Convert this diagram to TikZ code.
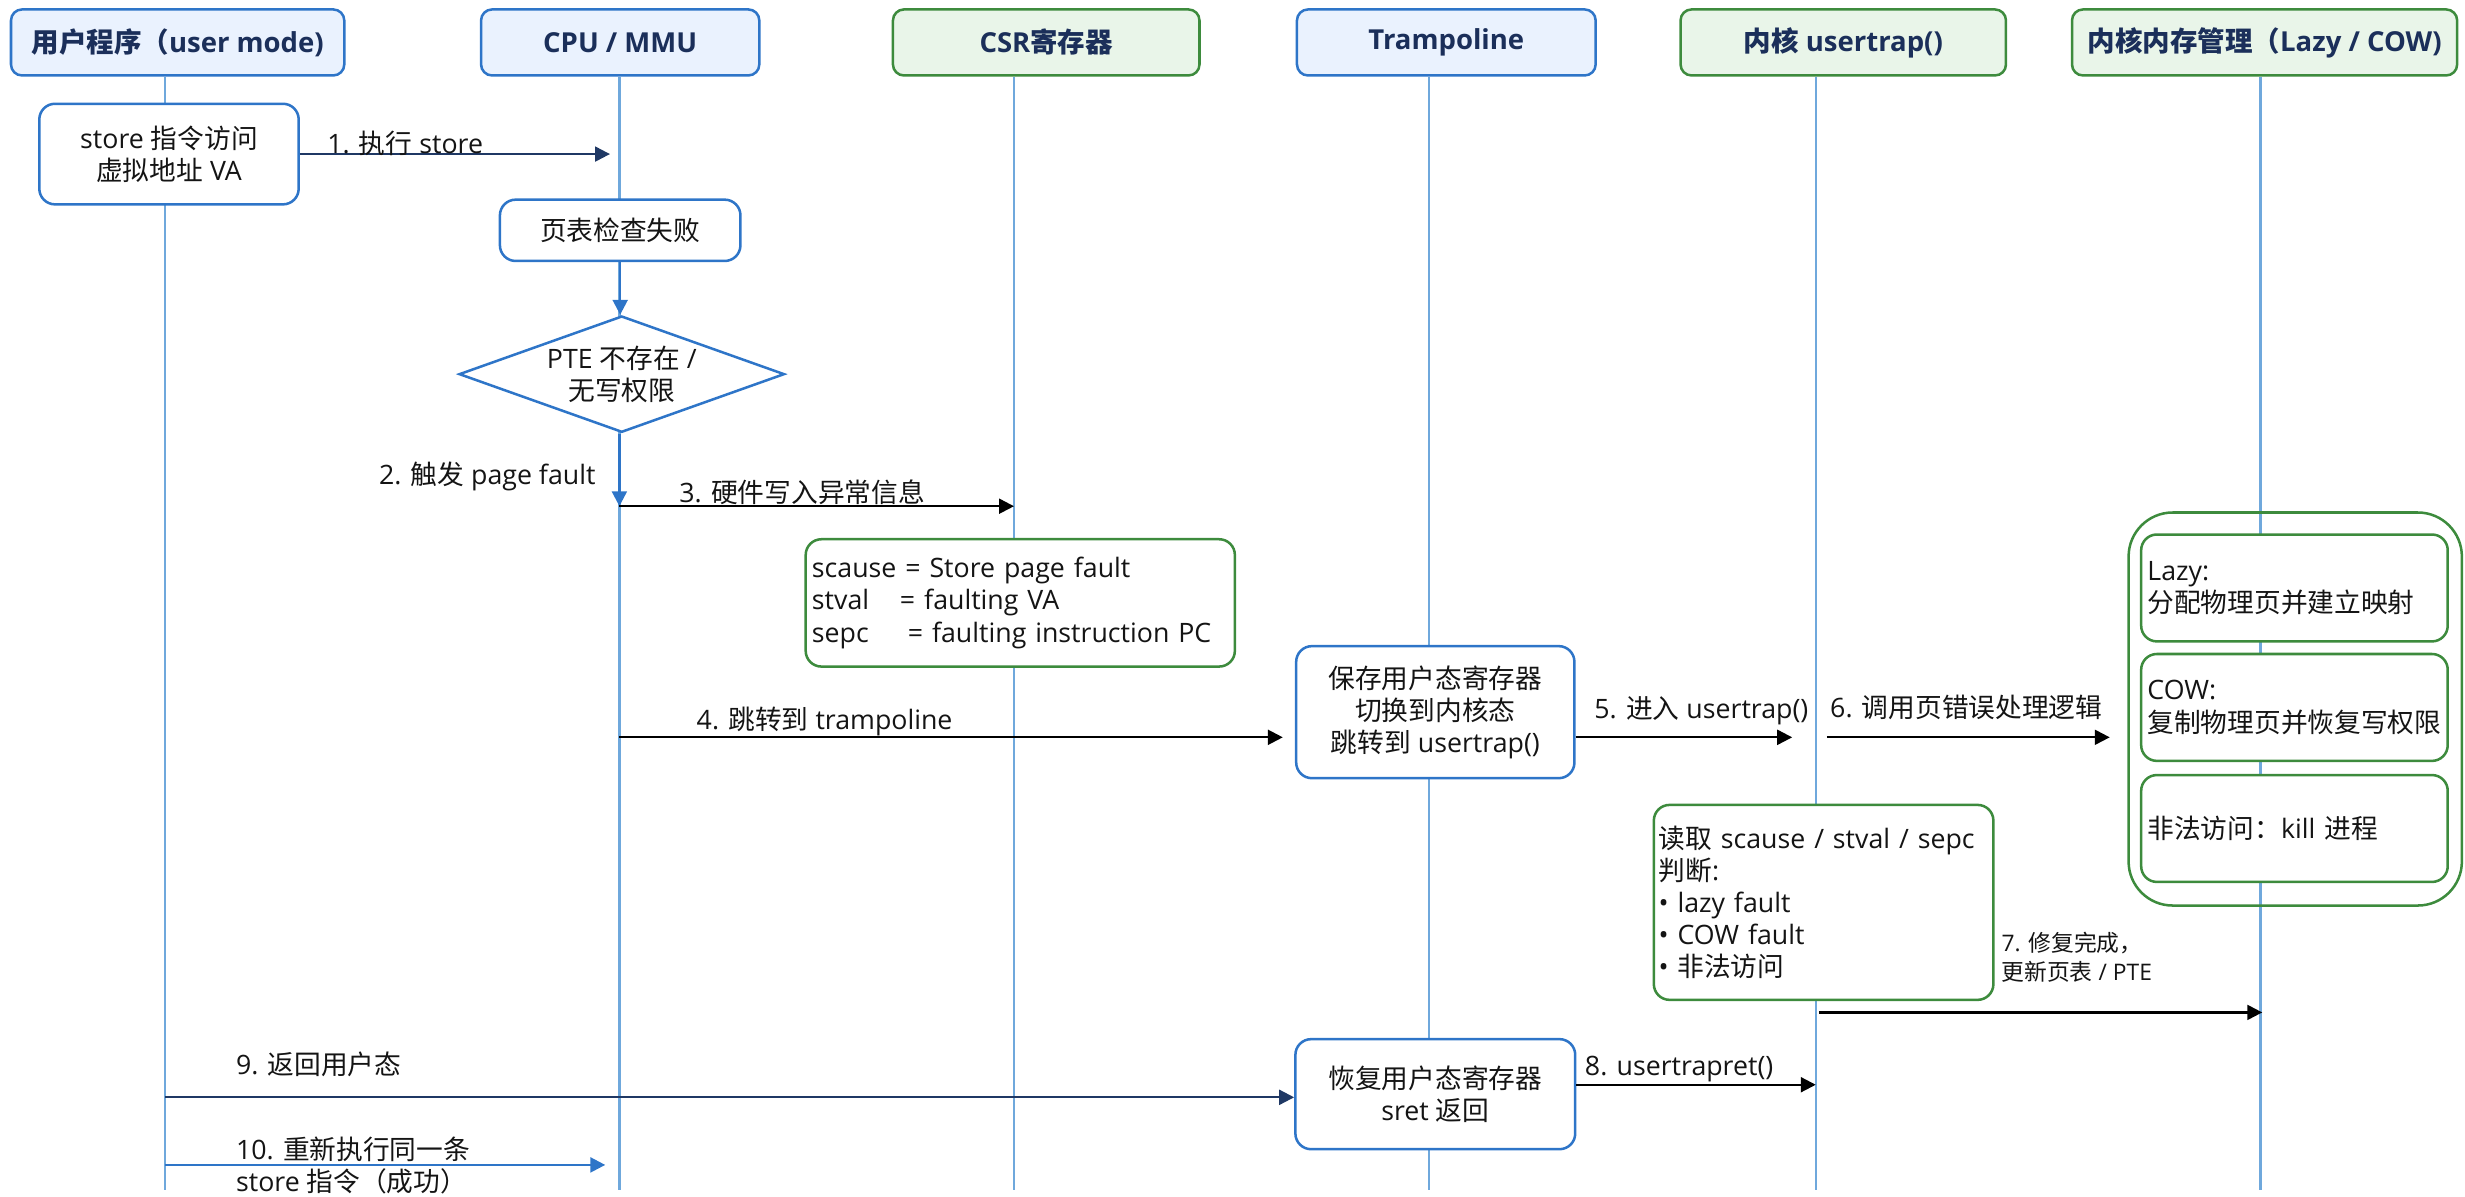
\documentclass[tikz,border=0pt]{standalone}
\usepackage{fontspec}
\setmainfont{Open Sans}
\newfontfamily\zhfont{Noto Sans CJK SC}
\usetikzlibrary{shapes.geometric,arrows.meta}
% automatic switch to the CJK font for CJK characters
\XeTeXinterchartokenstate=1
\newcount\zhc
\zhc="3000 \loop\XeTeXcharclass\zhc=201 \advance\zhc by 1 \ifnum\zhc<"3040 \repeat
\zhc="4E00 \loop\XeTeXcharclass\zhc=201 \advance\zhc by 1 \ifnum\zhc<"A000 \repeat
\zhc="FF00 \loop\XeTeXcharclass\zhc=201 \advance\zhc by 1 \ifnum\zhc<"FFF0 \repeat
\zhc="21 \loop\XeTeXcharclass\zhc=0 \advance\zhc by 1 \ifnum\zhc<"7F \repeat
\XeTeXinterchartoks 0 201 = {\begingroup\zhfont}
\XeTeXinterchartoks 1 201 = {\begingroup\zhfont}
\XeTeXinterchartoks 2 201 = {\begingroup\zhfont}
\XeTeXinterchartoks 3 201 = {\begingroup\zhfont}
\XeTeXinterchartoks 4095 201 = {\begingroup\zhfont}
\XeTeXinterchartoks 201 0 = {\endgroup}
\XeTeXinterchartoks 201 1 = {\endgroup}
\XeTeXinterchartoks 201 2 = {\endgroup}
\XeTeXinterchartoks 201 3 = {\endgroup}
\XeTeXinterchartoks 201 4095 = {\endgroup}

\definecolor{bblue}{RGB}{46,117,200}
\definecolor{hblue}{RGB}{234,242,254}
\definecolor{ggreen}{RGB}{61,139,61}
\definecolor{hgreen}{RGB}{233,245,233}
\definecolor{hnavy}{RGB}{27,47,90}
\definecolor{lline}{RGB}{111,168,220}
\definecolor{arrnavy}{RGB}{31,56,100}
\definecolor{txt}{RGB}{20,20,20}

\tikzset{
  hdr/.style={line width=1.6pt, rounded corners=7pt, inner sep=0pt, minimum height=42pt,
    text=hnavy, font=\fontsize{17.5}{21}\selectfont\bfseries},
  hdrb/.style={hdr, draw=bblue, fill=hblue},
  hdrg/.style={hdr, draw=ggreen, fill=hgreen},
  lifeln/.style={draw=lline, line width=1.5pt},
  bbox/.style={draw=bblue, fill=white, line width=1.6pt, rounded corners=10pt, align=center, inner sep=0pt, text=txt},
  gbox/.style={draw=ggreen, fill=white, line width=1.6pt, rounded corners=10pt, align=left, inner ysep=0pt, text=txt},
  arr/.style={-{Triangle[length=9.5pt,width=9.5pt]}, line width=1.4pt, draw=black},
  barr/.style={-{Triangle[length=9.5pt,width=9.5pt]}, line width=1.6pt, draw=bblue},
  lbl/.style={inner sep=0pt, text=txt},
}

\begin{document}
\begin{tikzpicture}[x=1pt, y=-1pt, font=\fontsize{17}{20.5}\selectfont]
\useasboundingbox (0,0) rectangle (1568,761);

% headers
\node[hdrb, minimum width=212pt] (hUser) at (113,27) {用户程序（user mode)};
\node[hdrb, minimum width=177pt] (hCpu) at (394.5,27) {CPU / MMU};
\node[hdrg, minimum width=195pt] (hCsr) at (665.5,27) {CSR寄存器};
\node[hdrb, minimum width=190pt] (hTramp) at (920,27) {Trampoline};
\node[hdrg, minimum width=207pt] (hTrap) at (1172.5,27) {内核 usertrap()};
\node[hdrg, minimum width=245pt] (hMem) at (1440.5,27) {内核内存管理（Lazy / COW)};

% lifeline ends
\coordinate (uEnd) at (105,757);
\coordinate (cEnd) at (394,757);
\coordinate (sEnd) at (645,757);
\coordinate (tEnd) at (909,757);
\coordinate (kEnd) at (1155,757);
\coordinate (mEnd) at (1438,757);
\draw[lifeln] (uEnd |- hUser.south) -- (uEnd);
\draw[lifeln] (cEnd |- hCpu.south) -- (cEnd);
\draw[lifeln] (sEnd |- hCsr.south) -- (sEnd);
\draw[lifeln] (tEnd |- hTramp.south) -- (tEnd);
\draw[lifeln] (kEnd |- hTrap.south) -- (kEnd);
\draw[lifeln] (mEnd |- hMem.south) -- (mEnd);

% boxes
\node[bbox, minimum width=165pt, minimum height=64pt] (bStore) at (107.5,98) {store 指令访问\\虚拟地址 VA};
\node[bbox, minimum width=153pt, minimum height=39pt] (bCheck) at (394.5,146.5) {页表检查失败};
\node[diamond, draw=bblue, fill=white, line width=1.6pt, minimum width=207pt, minimum height=74pt, inner sep=0pt] (dPTE) at (395.5,238) {};
\node[lbl, align=center] (tPTE) at (dPTE.center) {PTE 不存在 /\\无写权限};

\node[gbox, inner xsep=4pt, text width=265pt, minimum height=81pt] (bCsr) at (649,383.5)
  {scause = Store page fault\\\makebox[56pt][l]{stval}= faulting VA\\\makebox[61pt][l]{sepc}= faulting instruction PC};

\node[bbox, minimum width=177pt, minimum height=84pt] (bTr1) at (913,453) {保存用户态寄存器\\切换到内核态\\跳转到 usertrap()};

\node[gbox, inner xsep=3pt, text width=210pt, minimum height=124pt] (bTrap) at (1160,574)
  {读取 scause / stval / sepc\\判断:\\• lazy fault\\• COW fault\\• 非法访问};

\node[draw=ggreen, line width=1.6pt, rounded corners=28pt, minimum width=212pt, minimum height=250pt, inner sep=0pt] (gMem) at (1460,451) {};
\node[gbox, inner xsep=4pt, text width=187pt, minimum height=68pt] (bLazy) at (1459.5,374) {Lazy:\\分配物理页并建立映射};
\node[gbox, inner xsep=4pt, text width=187pt, minimum height=68pt] (bCow) at (1459.5,450) {COW:\\复制物理页并恢复写权限};
\node[gbox, inner xsep=4pt, text width=187pt, minimum height=68pt] (bIll) at (1459.5,527) {非法访问：kill 进程};

\node[bbox, minimum width=178pt, minimum height=70pt] (bTr2) at (913,696) {恢复用户态寄存器\\sret 返回};

% arrow end points
\coordinate (a1e) at (388,98);
\coordinate (a2e) at (394,322);
\coordinate (a3e) at (645,322);
\coordinate (a4s) at (394,469);
\coordinate (a4e) at (816,469);
\coordinate (a5e) at (1140,469);
\coordinate (a6s) at (1162,469);
\coordinate (a6e) at (1342,469);
\coordinate (a7s) at (1157,644);
\coordinate (a7e) at (1439,644);
\coordinate (a8e) at (1155,690);
\coordinate (a9s) at (105,698);
\coordinate (a10s) at (105,741);
\coordinate (a10e) at (385,741);

% arrows
\draw[arr, draw=arrnavy, -{Triangle[length=9.5pt,width=9.5pt,fill=arrnavy]}] (bStore.east) -- (a1e);
\draw[barr] (bCheck.south) -- (bCheck.south |- dPTE.north);
\draw[barr] (dPTE.south -| a2e) -- (a2e);
\draw[arr] (a2e) -- (a3e);
\draw[arr] (a4s) -- (a4e);
\draw[arr] (bTr1.east |- a5e) -- (a5e);
\draw[arr] (a6s) -- (a6e);
\draw[arr] (a7s) -- (a7e);
\draw[arr] (bTr2.east |- a8e) -- (a8e);
\draw[arr, draw=arrnavy] (a9s) -- (bTr2.west |- a9s);
\draw[barr] (a10s) -- (a10e);

% labels
\node[lbl, anchor=west] (l1) at (208,91) {1. 执行 store};
\node[lbl, anchor=east] (l2) at (379,303) {2. 触发 page fault};
\node[lbl, anchor=west] (l3) at (432,313) {3. 硬件写入异常信息};
\node[lbl, anchor=west] (l4) at (443,459) {4. 跳转到 trampoline};
\node[lbl, anchor=west] (l5) at (1014,452) {5. 进入 usertrap()};
\node[lbl, anchor=west] (l6) at (1164,450) {6. 调用页错误处理逻辑};
\node[lbl, anchor=west, align=left, font=\fontsize{14.5}{18}\selectfont] (l7) at (1273,609) {7. 修复完成，\\更新页表 / PTE};
\node[lbl, anchor=west] (l8) at (1008,680) {8. usertrapret()};
\node[lbl, anchor=west] (l9) at (150,677) {9. 返回用户态};
\node[lbl, anchor=west, align=left] (l10) at (150,741.5) {10. 重新执行同一条\\store 指令（成功）};
\end{tikzpicture}
\end{document}
